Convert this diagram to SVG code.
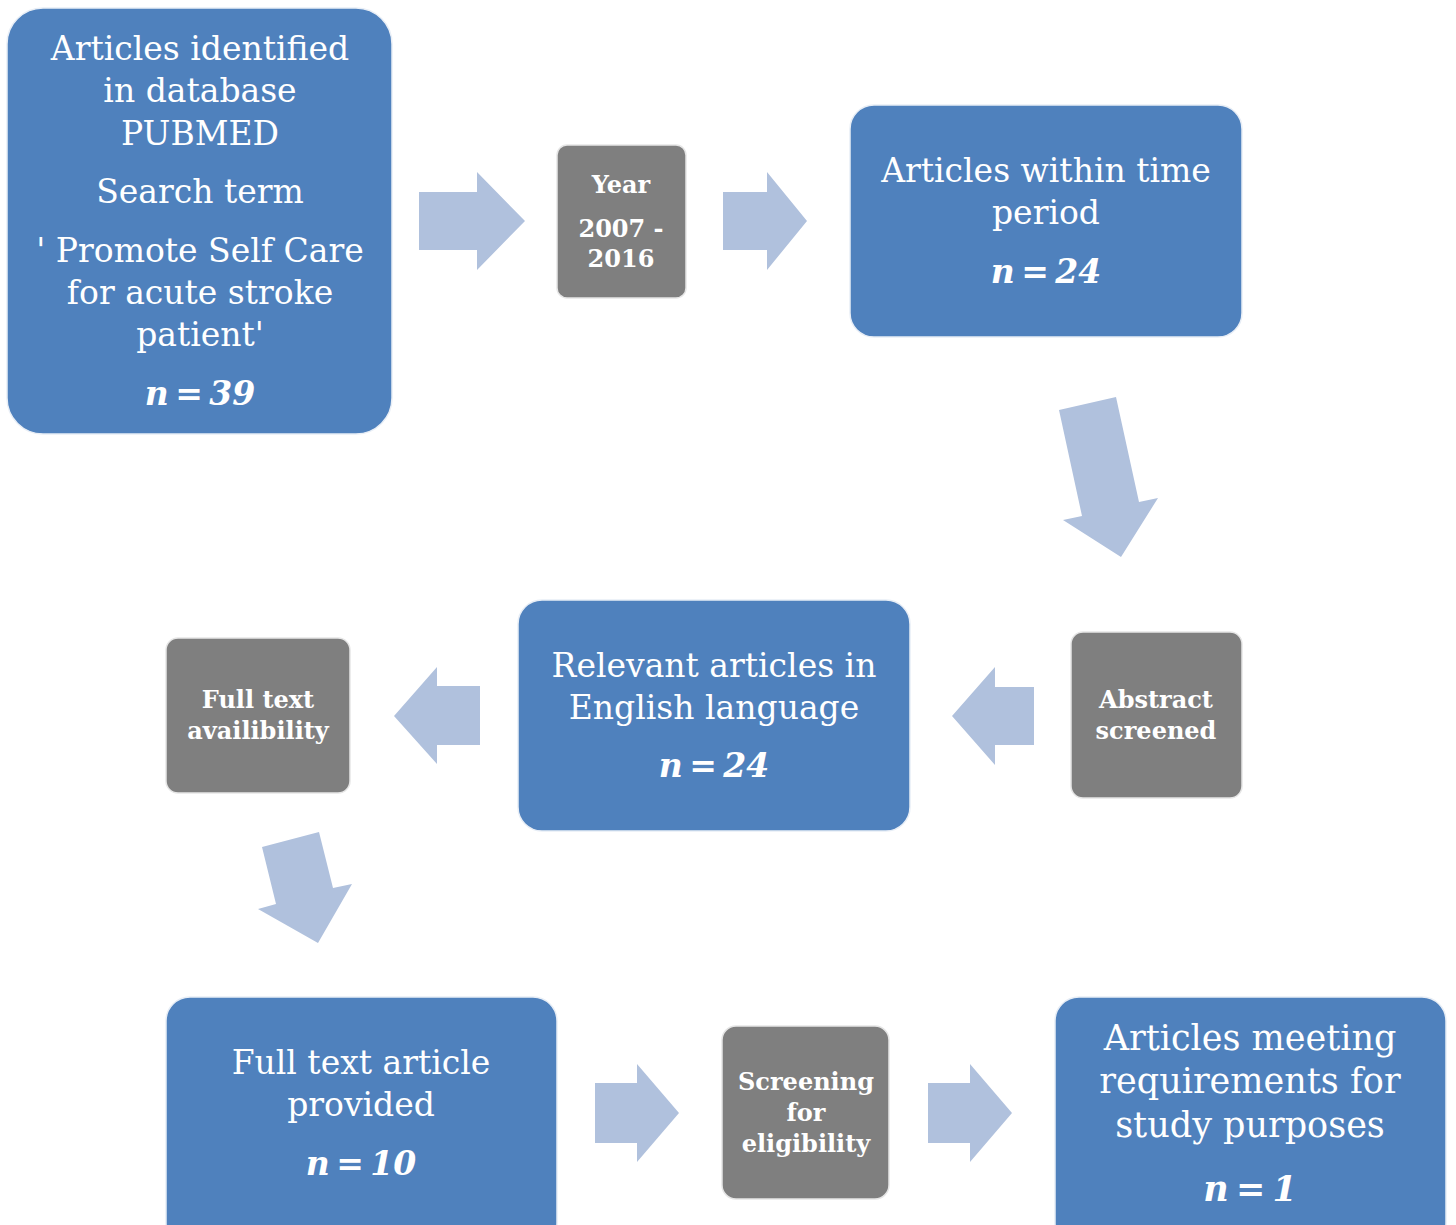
<svg xmlns="http://www.w3.org/2000/svg" width="1456" height="1225" viewBox="0 0 1456 1225">
<style>
.blue{fill:#4F81BD;stroke:#E8EEF6;stroke-width:1.5}
.gray{fill:#7F7F7F;stroke:#E6E6E6;stroke-width:1.5}
.arr{fill:#B0C1DD}
text{fill:#FFFFFF;font-family:"DejaVu Serif","Liberation Serif",serif;text-anchor:middle}
.t{font-size:33px}
.m{font-size:35px}
.n{font-size:33px;font-weight:bold;font-style:italic;word-spacing:-5px}
.g{font-size:24px;font-weight:bold}
</style>
<rect width="1456" height="1225" fill="#FFFFFF"/>
<g id="connectors">
<polygon class="arr" points="419,192 477,192 477,172 525,221 477,270 477,250 419,250"/>
<polygon class="arr" points="723,192 767,192 767,172 807,221 767,270 767,250 723,250"/>
<polygon class="arr" points="1059,410 1116,397 1139,502 1158,498 1121,557 1063,520 1082,516"/>
<polygon class="arr" points="1034,687 995,687 995,667 952,716 995,765 995,745 1034,745"/>
<polygon class="arr" points="480,686 437,686 437,667 394,716 437,764 437,745 480,745"/>
<polygon class="arr" points="262,847 319,832 333,888 352,884 318,943 258,909 276,904"/>
<polygon class="arr" points="595,1083 637,1083 637,1064 679,1113 637,1162 637,1143 595,1143"/>
<polygon class="arr" points="928,1083 970,1083 970,1064 1012,1113 970,1162 970,1143 928,1143"/>
</g>
<g id="node-identified">
<rect class="blue" x="7" y="8" width="385" height="426" rx="36"/>
<text class="t" x="200" y="60">Articles identified</text>
<text class="t" x="200" y="102">in database</text>
<text class="t" x="200" y="145">PUBMED</text>
<text class="t" x="200" y="203">Search term</text>
<text class="t" x="200" y="262">' Promote Self Care</text>
<text class="t" x="200" y="304">for acute stroke</text>
<text class="t" x="200" y="346">patient'</text>
<text class="n" x="200" y="405">n = 39</text>
</g>
<g id="node-year">
<rect class="gray" x="557" y="145" width="129" height="153" rx="10"/>
<text class="g" x="621" y="193">Year</text>
<text class="g" x="621" y="237">2007 -</text>
<text class="g" x="621" y="267">2016</text>
</g>
<g id="node-timeperiod">
<rect class="blue" x="850" y="105" width="392" height="232" rx="24"/>
<text class="t" x="1046" y="182">Articles within time</text>
<text class="t" x="1046" y="224">period</text>
<text class="n" x="1046" y="283">n = 24</text>
</g>
<g id="node-abstract">
<rect class="gray" x="1071" y="632" width="171" height="166" rx="12"/>
<text class="g" x="1156" y="708">Abstract</text>
<text class="g" x="1156" y="739">screened</text>
</g>
<g id="node-relevant">
<rect class="blue" x="518" y="600" width="392" height="231" rx="24"/>
<text class="t" x="714" y="677">Relevant articles in</text>
<text class="t" x="714" y="719">English language</text>
<text class="n" x="714" y="777">n = 24</text>
</g>
<g id="node-fulltextavail">
<rect class="gray" x="166" y="638" width="184" height="155" rx="12"/>
<text class="g" x="258" y="708">Full text</text>
<text class="g" x="258" y="739">availibility</text>
</g>
<g id="node-fulltextprovided">
<rect class="blue" x="166" y="997" width="391" height="250" rx="24"/>
<text class="t" x="361" y="1074">Full text article</text>
<text class="t" x="361" y="1116">provided</text>
<text class="n" x="361" y="1175">n = 10</text>
</g>
<g id="node-screening">
<rect class="gray" x="722" y="1026" width="167" height="173" rx="14"/>
<text class="g" x="806" y="1090">Screening</text>
<text class="g" x="806" y="1121">for</text>
<text class="g" x="806" y="1152">eligibility</text>
</g>
<g id="node-meeting">
<rect class="blue" x="1055" y="997" width="391" height="250" rx="24"/>
<text class="m" x="1250" y="1050">Articles meeting</text>
<text class="m" x="1250" y="1093">requirements for</text>
<text class="m" x="1250" y="1137">study purposes</text>
<text class="n" x="1250" y="1201" style="font-size:35px">n = 1</text>
</g>
</svg>
